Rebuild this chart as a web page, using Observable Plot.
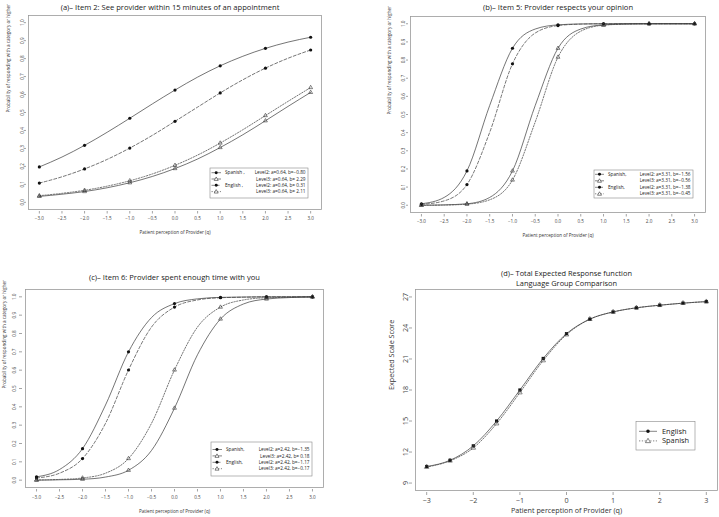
<!DOCTYPE html>
<html><head><meta charset="utf-8">
<script src="https://cdn.jsdelivr.net/npm/d3@7"></script>
<script src="https://cdn.jsdelivr.net/npm/@observablehq/plot@0.6"></script>
<style>
body{margin:0;background:#fff;}
#wrap{position:relative;width:719px;height:517px;overflow:hidden;background:#fff;}
#wrap svg{position:absolute;left:0;top:0;}
</style></head><body><div id="wrap"></div>
<script>
// ---- data ----
const theta = [-3,-2.5,-2,-1.5,-1,-0.5,0,0.5,1,1.5,2,2.5,3];
const probXTicks = [-3,-2.5,-2,-1.5,-1,-0.5,0,0.5,1,1.5,2,2.5,3];
const probYTicks = [0,0.1,0.2,0.3,0.4,0.5,0.6,0.7,0.8,0.9,1];
const tcfXTicks = [-3,-2,-1,0,1,2,3];
const tcfYTicks = [9,12,15,18,21,24,27];

// (a) Item 2
const item2SpanishL2 = [0.197,0.252,0.317,0.390,0.468,0.548,0.625,0.697,0.760,0.813,0.857,0.892,0.919];
const item2SpanishL3 = [0.033,0.045,0.060,0.081,0.109,0.144,0.188,0.241,0.305,0.376,0.454,0.534,0.612];
const item2EnglishL2 = [0.107,0.142,0.186,0.239,0.302,0.373,0.451,0.530,0.609,0.682,0.747,0.802,0.848];
const item2EnglishL3 = [0.037,0.050,0.067,0.090,0.120,0.158,0.206,0.263,0.330,0.404,0.483,0.562,0.639];
// (b) Item 5
const item5SpanishL2 = [0.008,0.043,0.189,0.550,0.865,0.971,0.994,0.999,1,1,1,1,1];
const item5SpanishL3 = [0.000,0.002,0.008,0.043,0.189,0.550,0.865,0.971,0.994,0.999,1,1,1];
const item5EnglishL2 = [0.005,0.024,0.114,0.402,0.779,0.949,0.990,0.998,1,1,1,1,1];
const item5EnglishL3 = [0.000,0.001,0.006,0.030,0.139,0.459,0.816,0.959,0.992,0.998,1,1,1];
// (c) Item 6
const item6SpanishL2 = [0.018,0.058,0.172,0.410,0.700,0.887,0.963,0.989,0.997,0.999,1,1,1];
const item6SpanishL3 = [0.000,0.002,0.005,0.017,0.054,0.162,0.393,0.684,0.879,0.961,0.988,0.996,0.999];
const item6EnglishL2 = [0.012,0.038,0.118,0.310,0.601,0.835,0.944,0.983,0.995,0.998,1,1,1];
const item6EnglishL3 = [0.001,0.004,0.012,0.038,0.118,0.310,0.601,0.835,0.944,0.983,0.995,0.998,1.000];
// (d) Total expected response
const tcfEnglish = [10.6,11.2,12.6,15.0,18.0,21.05,23.45,24.85,25.55,25.95,26.2,26.4,26.55];
const tcfSpanish = [10.55,11.15,12.4,14.75,17.75,20.85,23.35,24.85,25.55,25.95,26.2,26.4,26.55];

const legendA = [["Spanish ,","Level2: a=0.64, b=\u22120.80"],["","Level3: a=0.64, b= 2.29"],["English ,","Level2: a=0.64, b= 0.31"],["","Level3: a=0.64, b= 2.11"]];
const legendB = [["Spanish,","Level2: a=3.31, b=\u22121.56"],["","Level3: a=3.31, b=\u22120.56"],["English,","Level2: a=3.31, b=\u22121.38"],["","Level3: a=3.31, b=\u22120.45"]];
const legendC = [["Spanish,","Level2: a=2.42, b=\u22121.35"],["","Level3: a=2.42, b= 0.18"],["English,","Level2: a=2.42, b=\u22121.17"],["","Level3: a=2.42, b=\u22120.17"]];
const legendD = [["English",""],["Spanish",""]];

const W = 719, H = 517;
const FONT = '"Open Sans", sans-serif';
const wrap = document.getElementById("wrap");
const probStyles = [
  {dash: null, filled: true},
  {dash: null, filled: false},
  {dash: "3,2", filled: true},
  {dash: "1.3,1.5", filled: false}
];

function basePlot(cfg, marks) {
  const [bl, bt, br, bb] = cfg.box;
  return Plot.plot({
    width: W, height: H,
    marginLeft: bl, marginTop: bt, marginRight: W - br, marginBottom: H - bb,
    x: {domain: [-3.24, 3.24]},
    y: {domain: cfg.ydom},
    style: {fontFamily: FONT, background: "transparent", overflow: "visible"},
    marks
  });
}

function commonMarks(cfg) {
  return [
    Plot.axisX(cfg.xticks, {tickSize: cfg.xTick, dy: cfg.xOff, tickPadding: cfg.xPad, fontSize: cfg.tickFont,
      tickFormat: cfg.xfmt, stroke: "#666", fill: "#444", strokeWidth: 0.6, label: null}),
    Plot.axisY(cfg.yticks, {tickSize: cfg.yTick, dx: -cfg.yOff, tickPadding: cfg.yPad, fontSize: cfg.tickFont,
      tickRotate: -90, textAnchor: "middle", lineAnchor: "bottom",
      tickFormat: cfg.yfmt, stroke: "#666", fill: "#444", strokeWidth: 0.6, label: null}),
    Plot.text([cfg.title], {text: d => d, frameAnchor: "top", dy: -cfg.titleGap, dx: cfg.titleDx || 0,
      lineAnchor: "bottom", fontSize: cfg.titleFont, fill: "#222", lineHeight: 1.3}),
    Plot.text([cfg.xlabel], {text: d => d, frameAnchor: "bottom", dy: cfg.xlabGap, lineAnchor: "bottom",
      fontSize: cfg.labFont, fill: "#333"}),
    Plot.text([cfg.ylabel], {text: d => d, frameAnchor: "left", dx: -cfg.ylabGap, rotate: -90,
      lineAnchor: "middle", fontSize: cfg.labFont, fill: "#333"}),
    Plot.frame({stroke: "#9a9a9a", strokeWidth: 0.8})
  ];
}

function addLegend(svg, L) {
  const g = d3.select(svg).append("g")
    .attr("font-family", FONT).attr("font-size", L.font).attr("fill", "#222")
    .attr("text-anchor", "start")
    .style("white-space", "pre");
  g.append("rect").attr("x", L.x0).attr("y", L.y0).attr("width", L.x1 - L.x0).attr("height", L.y1 - L.y0)
    .attr("fill", "white").attr("stroke", "#888").attr("stroke-width", 0.6);
  L.rows.forEach((r, i) => {
    const y = L.y0 + L.first + i * L.step;
    const st = L.styles[i];
    g.append("line").attr("x1", L.lx1).attr("x2", L.lx2).attr("y1", y).attr("y2", y)
      .attr("stroke", "#333").attr("stroke-width", 0.6).attr("stroke-dasharray", st.dash);
    g.append("path").attr("transform", `translate(${L.sx},${y + (st.filled ? 0 : 0.3)})`)
      .attr("d", d3.symbol(st.filled ? d3.symbolCircle : d3.symbolTriangle, st.filled ? L.cSize : L.tSize)())
      .attr("fill", st.filled ? "#111" : "white").attr("stroke", st.filled ? "none" : "#333").attr("stroke-width", 0.6);
    if (r[0]) g.append("text").attr("x", L.gx).attr("y", y).attr("dy", "0.35em").attr("text-anchor", "start").text(r[0]);
    if (r[1]) g.append("text").attr("x", L.tx).attr("y", y).attr("dy", "0.35em").attr("text-anchor", "end").text(r[1]);
  });
}

function probPanel(cfg) {
  const marks = [];
  cfg.series.forEach((vals, k) => {
    const d = theta.map((t, i) => ({t, v: vals[i]}));
    marks.push(Plot.line(d, {x: "t", y: "v", curve: "monotone-x", stroke: "#3a3a3a", strokeWidth: 0.7,
      strokeDasharray: probStyles[k].dash}));
  });
  [0, 2, 1, 3].forEach(k => {
    const vals = cfg.series[k];
    const d = theta.map((t, i) => ({t, v: vals[i]})).filter(p => Number.isInteger(p.t));
    const st = probStyles[k];
    marks.push(Plot.dot(d, {x: "t", y: "v", symbol: st.filled ? "circle" : "triangle",
      r: st.filled ? 1.6 : 1.45, fill: st.filled ? "#111" : "none", stroke: st.filled ? "none" : "#333", strokeWidth: 0.6}));
  });
  const svg = basePlot(cfg, [...commonMarks(cfg), ...marks]);
  addLegend(svg, {...cfg.legend, styles: probStyles});
  wrap.appendChild(svg);
}

const fmt1 = d3.format(".1f");
const probCommon = {
  ydom: [-0.04, 1.04], xticks: probXTicks, yticks: probYTicks, xfmt: fmt1, yfmt: fmt1,
  tickFont: 4.6, titleFont: 7.6, labFont: 4.6,
  xlabel: "Patient perception of Provider (q)",
  ylabel: "Probability of responding with a category or higher"
};

probPanel({...probCommon,
  box: [28, 15, 321, 209],
  xTick: 2.5, xOff: 2, xPad: 2.5, yTick: 2, yOff: 2, yPad: 1,
  title: "(a)\u2013 Item 2: See provider within 15 minutes of an appointment", titleGap: 6, titleDx: -5,
  xlabGap: 24, ylabGap: 20,
  series: [item2SpanishL2, item2SpanishL3, item2EnglishL2, item2EnglishL3],
  legend: {x0: 210, y0: 168, x1: 308, y1: 198, first: 4.7, step: 6.3, font: 4.7,
    lx1: 211.5, lx2: 221, sx: 216.2, gx: 225, tx: 305.5, cSize: 7, tSize: 7, rows: legendA}
});

probPanel({...probCommon,
  box: [410, 16, 705, 212],
  xTick: 2.5, xOff: 2, xPad: 2.5, yTick: 2, yOff: 2, yPad: 2,
  title: "(b)\u2013 Item 5: Provider respects your opinion", titleGap: 7,
  xlabGap: 24, ylabGap: 21,
  series: [item5SpanishL2, item5SpanishL3, item5EnglishL2, item5EnglishL3],
  legend: {x0: 594, y0: 170, x1: 693, y1: 198, first: 4.3, step: 6.5, font: 4.7,
    lx1: 595, lx2: 604, sx: 599.5, gx: 608, tx: 690.5, cSize: 7, tSize: 7, rows: legendB}
});

probPanel({...probCommon,
  box: [25, 289, 323, 487],
  xTick: 2.5, xOff: 2, xPad: 3.5, yTick: 3, yOff: 3, yPad: 4,
  title: "(c)\u2013 Item 6: Provider spent enough time with you", titleGap: 10,
  xlabGap: 25, ylabGap: 21,
  series: [item6SpanishL2, item6SpanishL3, item6EnglishL2, item6EnglishL3],
  legend: {x0: 211, y0: 442, x1: 312, y1: 476, first: 7.5, step: 6.4, font: 4.7,
    lx1: 212.5, lx2: 222, sx: 217, gx: 226, tx: 309.5, cSize: 7, tSize: 7, rows: legendC}
});

// (d)
(function () {
  const cfg = {
    box: [415, 289, 717, 490], ydom: [8.28, 27.72], xticks: tcfXTicks, yticks: tcfYTicks,
    xfmt: d3.format("d"), yfmt: d3.format("d"),
    tickFont: 7.2, titleFont: 7.4, labFont: 7.2,
    xTick: 3, xOff: 2, xPad: 2, yTick: 3, yOff: 3, yPad: 2,
    title: "(d)\u2013 Total Expected Response function\nLanguage Group Comparison", titleGap: 4,
    xlabGap: 22, ylabGap: 24,
    xlabel: "Patient perception of Provider (q)", ylabel: "Expected Scale Score"
  };
  const styles = [{dash: null, filled: true}, {dash: "1.3,1.5", filled: false}];
  const series = [tcfEnglish, tcfSpanish];
  const marks = [];
  series.forEach((vals, k) => {
    const d = theta.map((t, i) => ({t, v: vals[i]}));
    marks.push(Plot.line(d, {x: "t", y: "v", curve: "monotone-x", stroke: "#3a3a3a", strokeWidth: 0.7,
      strokeDasharray: styles[k].dash}));
  });
  series.forEach((vals, k) => {
    const d = theta.map((t, i) => ({t, v: vals[i]}));
    const st = styles[k];
    marks.push(Plot.dot(d, {x: "t", y: "v", symbol: st.filled ? "square" : "triangle",
      r: st.filled ? 1.8 : 1.7, fill: st.filled ? "#111" : "none", stroke: st.filled ? "none" : "#444", strokeWidth: 0.6}));
  });
  const svg = basePlot(cfg, [...commonMarks(cfg), ...marks]);
  addLegend(svg, {x0: 636, y0: 421.5, x1: 695, y1: 450, first: 9.8, step: 9.6, font: 7.4,
    lx1: 639, lx2: 657, sx: 648, gx: 662, tx: 0, cSize: 10, tSize: 11, rows: legendD, styles});
  wrap.appendChild(svg);
})();
</script>
</body></html>
